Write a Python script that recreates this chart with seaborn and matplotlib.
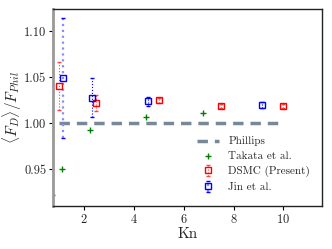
import matplotlib
matplotlib.use("Agg")
import matplotlib.pyplot as plt
import seaborn as sns
import numpy as np
import pandas as pd

sns.set_style("white")
plt.rcParams['font.family'] = ['cmr10', 'DejaVu Serif']
plt.rcParams['mathtext.fontset'] = 'cm'
plt.rcParams['axes.formatter.use_mathtext'] = True

# Data
phillips_x = [1.0, 10.0]
phillips_y = [1.0, 1.0]

takata_x = [0.7, 1.1, 2.24, 4.5, 6.77]
takata_y = [0.922, 0.950, 0.993, 1.007, 1.0115]

dsmc_x = [1.0, 2.5, 5.0, 7.5, 10.0]
dsmc_y = [1.041, 1.022, 1.025, 1.019, 1.019]
dsmc_err = [0.026, 0.009, 0.003, 0.002, 0.002]

jin_x = [1.15, 2.3, 4.55, 9.15]
jin_y = [1.049, 1.028, 1.024, 1.020]
jin_err = [0.065, 0.021, 0.005, 0.003]

fig, ax = plt.subplots(figsize=(3.32, 2.49), dpi=100)

sns.lineplot(x=phillips_x, y=phillips_y, ax=ax, color='#778899', lw=2.5,
             linestyle=(0, (3, 2)), label='Phillips')
sns.scatterplot(x=takata_x, y=takata_y, ax=ax, marker='+', color='green',
                s=18, linewidth=1.0, label='Takata et al.')
eb1 = ax.errorbar(dsmc_x, dsmc_y, yerr=dsmc_err, fmt='s', mfc='none', mec='red',
                  ecolor='#ff4444', ms=5, mew=1.0, capsize=1.5, elinewidth=0.8,
                  label='DSMC (Present)')
eb1[-1][0].set_linestyle(':')
eb2 = ax.errorbar(jin_x, jin_y, yerr=jin_err, fmt='s', mfc='none', mec='blue',
                  ecolor='blue', ms=5, mew=1.0, capsize=1.5, elinewidth=0.8,
                  label='Jin et al.')
eb2[-1][0].set_linestyle(':')
eb2[-1][0].set_color(['#8c8cff', 'blue', 'blue', 'blue'])
eb2[-1][0].set_linewidth([1.6, 0.8, 0.8, 0.8])

ax.set_xlim(0.76, 11.55)
ax.set_ylim(0.9105, 1.1237)
ax.set_xticks([2, 4, 6, 8, 10])
ax.set_yticks([0.95, 1.00, 1.05, 1.10])
ax.set_yticklabels(['0.95', '1.00', '1.05', '1.10'])
ax.tick_params(axis='both', labelsize=9, length=3, direction='out', color='black',
               left=True, bottom=True, pad=2)
ax.set_xlabel('Kn', fontsize=11, labelpad=1)
ax.set_ylabel(r'$\langle F_D\rangle/F_{Phil}$', fontsize=11, labelpad=0)

for s in ['top', 'right', 'bottom']:
    ax.spines[s].set_color('#222222')
    ax.spines[s].set_linewidth(1.0)
ax.spines['left'].set_color('#999999')
ax.spines['left'].set_linewidth(2.0)

leg = ax.legend(loc='lower right', fontsize=8, frameon=False,
                handlelength=2.0, borderpad=0.2, labelspacing=0.45,
                bbox_to_anchor=(0.985, 0.03))

fig.subplots_adjust(left=0.16, right=0.97, top=0.963, bottom=0.173)
fig.savefig('out.png', dpi=100)
